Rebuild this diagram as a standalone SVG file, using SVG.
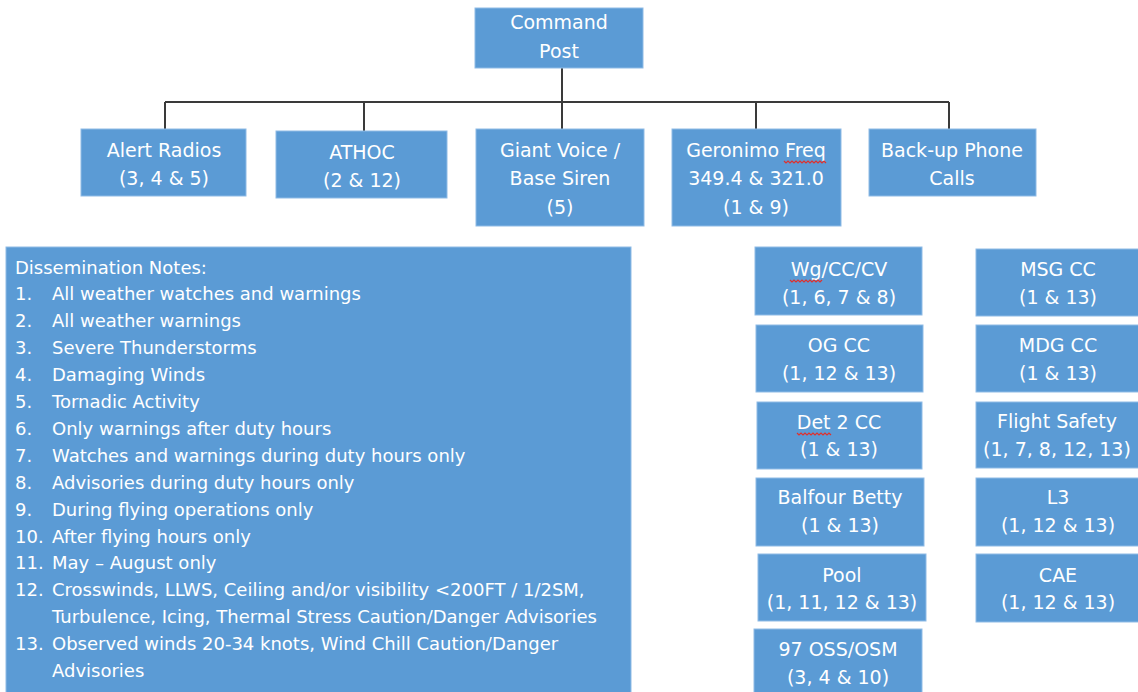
<svg xmlns="http://www.w3.org/2000/svg" width="1138" height="692" viewBox="0 0 1138 692">
<style>
.box{fill:#5b9bd5;stroke:#8fbbe6;stroke-width:1}
.t{font-family:"DejaVu Sans",sans-serif;font-size:19px;fill:#ffffff;text-anchor:middle}
.n{font-family:"DejaVu Sans",sans-serif;font-size:18px;fill:#ffffff}
.conn{fill:none;stroke:#3a3a3a;stroke-width:2}
.sq{fill:none;stroke:#e0302c;stroke-width:1.2}
</style>
<rect width="1138" height="692" fill="#ffffff"/>
<g id="connectors">
<path class="conn" d="M562 68V102M165 102H949M165 102V129M364 102V131M562 102V129M756 102V129M949 102V129"/>
</g>
<g id="command-post"><rect class="box" x="475" y="8" width="168" height="60"/><text class="t" x="559" y="29">Command</text><text class="t" x="559" y="58">Post</text></g>
<g id="alert-radios"><rect class="box" x="81" y="129" width="165" height="67"/><text class="t" x="164" y="157">Alert Radios</text><text class="t" x="164" y="185">(3, 4 &amp; 5)</text></g>
<g id="athoc"><rect class="box" x="276" y="131" width="171" height="67"/><text class="t" x="362" y="159">ATHOC</text><text class="t" x="362" y="187">(2 &amp; 12)</text></g>
<g id="giant-voice"><rect class="box" x="476" y="129" width="168" height="97"/><text class="t" x="560" y="157">Giant Voice /</text><text class="t" x="560" y="185">Base Siren</text><text class="t" x="560" y="214">(5)</text></g>
<g id="geronimo"><rect class="box" x="672" y="129" width="169" height="97"/><text class="t" x="756" y="157">Geronimo Freq</text><text class="t" x="756" y="185">349.4 &amp; 321.0</text><text class="t" x="756" y="214">(1 &amp; 9)</text><path class="sq" d="M784 161l2 2 2-2 2 2 2-2 2 2 2-2 2 2 2-2 2 2 2-2 2 2 2-2 2 2 2-2 2 2 2-2 2 2 2-2 2 2 2-2 2 2"/></g>
<g id="backup-phone"><rect class="box" x="869" y="129" width="167" height="67"/><text class="t" x="952" y="157">Back-up Phone</text><text class="t" x="952" y="185">Calls</text></g>
<g id="notes">
<rect class="box" x="6" y="247" width="625" height="450"/>
<text class="n" x="15" y="274">Dissemination Notes:</text>
<text class="n" x="15" y="300">1.</text><text class="n" x="52" y="300">All weather watches and warnings</text>
<text class="n" x="15" y="327">2.</text><text class="n" x="52" y="327">All weather warnings</text>
<text class="n" x="15" y="354">3.</text><text class="n" x="52" y="354">Severe Thunderstorms</text>
<text class="n" x="15" y="381">4.</text><text class="n" x="52" y="381">Damaging Winds</text>
<text class="n" x="15" y="408">5.</text><text class="n" x="52" y="408">Tornadic Activity</text>
<text class="n" x="15" y="435">6.</text><text class="n" x="52" y="435">Only warnings after duty hours</text>
<text class="n" x="15" y="462">7.</text><text class="n" x="52" y="462">Watches and warnings during duty hours only</text>
<text class="n" x="15" y="489">8.</text><text class="n" x="52" y="489">Advisories during duty hours only</text>
<text class="n" x="15" y="516">9.</text><text class="n" x="52" y="516">During flying operations only</text>
<text class="n" x="15" y="543">10.</text><text class="n" x="52" y="543">After flying hours only</text>
<text class="n" x="15" y="569">11.</text><text class="n" x="52" y="569">May – August only</text>
<text class="n" x="15" y="596">12.</text><text class="n" x="52" y="596">Crosswinds, LLWS, Ceiling and/or visibility &lt;200FT / 1/2SM,</text>
<text class="n" x="52" y="623">Turbulence, Icing, Thermal Stress Caution/Danger Advisories</text>
<text class="n" x="15" y="650">13.</text><text class="n" x="52" y="650">Observed winds 20-34 knots, Wind Chill Caution/Danger</text>
<text class="n" x="52" y="677">Advisories</text>
</g>
<g id="wg-cc-cv"><rect class="box" x="755" y="247" width="167" height="68"/><text class="t" x="839" y="276">Wg/CC/CV</text><text class="t" x="839" y="304">(1, 6, 7 &amp; 8)</text><path class="sq" d="M790 280l2 2 2-2 2 2 2-2 2 2 2-2 2 2 2-2 2 2 2-2 2 2 2-2 2 2 2-2 2 2 2-2"/></g>
<g id="og-cc"><rect class="box" x="756" y="325" width="167" height="67"/><text class="t" x="839" y="352">OG CC</text><text class="t" x="839" y="380">(1, 12 &amp; 13)</text></g>
<g id="det2-cc"><rect class="box" x="757" y="402" width="165" height="67"/><text class="t" x="839" y="429">Det 2 CC</text><text class="t" x="839" y="456">(1 &amp; 13)</text><path class="sq" d="M797 433l2 2 2-2 2 2 2-2 2 2 2-2 2 2 2-2 2 2 2-2 2 2 2-2 2 2 2-2 2 2 2-2 2 2"/></g>
<g id="balfour-betty"><rect class="box" x="756" y="478" width="168" height="68"/><text class="t" x="840" y="504">Balfour Betty</text><text class="t" x="840" y="532">(1 &amp; 13)</text></g>
<g id="pool"><rect class="box" x="758" y="554" width="168" height="67"/><text class="t" x="842" y="582">Pool</text><text class="t" x="842" y="609">(1, 11, 12 &amp; 13)</text></g>
<g id="oss-osm"><rect class="box" x="754" y="629" width="168" height="68"/><text class="t" x="838" y="656">97 OSS/OSM</text><text class="t" x="838" y="684">(3, 4 &amp; 10)</text></g>
<g id="msg-cc"><rect class="box" x="976" y="249" width="168" height="67"/><text class="t" x="1058" y="276">MSG CC</text><text class="t" x="1058" y="304">(1 &amp; 13)</text></g>
<g id="mdg-cc"><rect class="box" x="976" y="325" width="168" height="67"/><text class="t" x="1058" y="352">MDG CC</text><text class="t" x="1058" y="380">(1 &amp; 13)</text></g>
<g id="flight-safety"><rect class="box" x="976" y="402" width="168" height="66"/><text class="t" x="1057" y="428">Flight Safety</text><text class="t" x="1057" y="456">(1, 7, 8, 12, 13)</text></g>
<g id="l3"><rect class="box" x="976" y="478" width="168" height="68"/><text class="t" x="1058" y="504">L3</text><text class="t" x="1058" y="532">(1, 12 &amp; 13)</text></g>
<g id="cae"><rect class="box" x="976" y="554" width="168" height="68"/><text class="t" x="1058" y="582">CAE</text><text class="t" x="1058" y="609">(1, 12 &amp; 13)</text></g>
</svg>
